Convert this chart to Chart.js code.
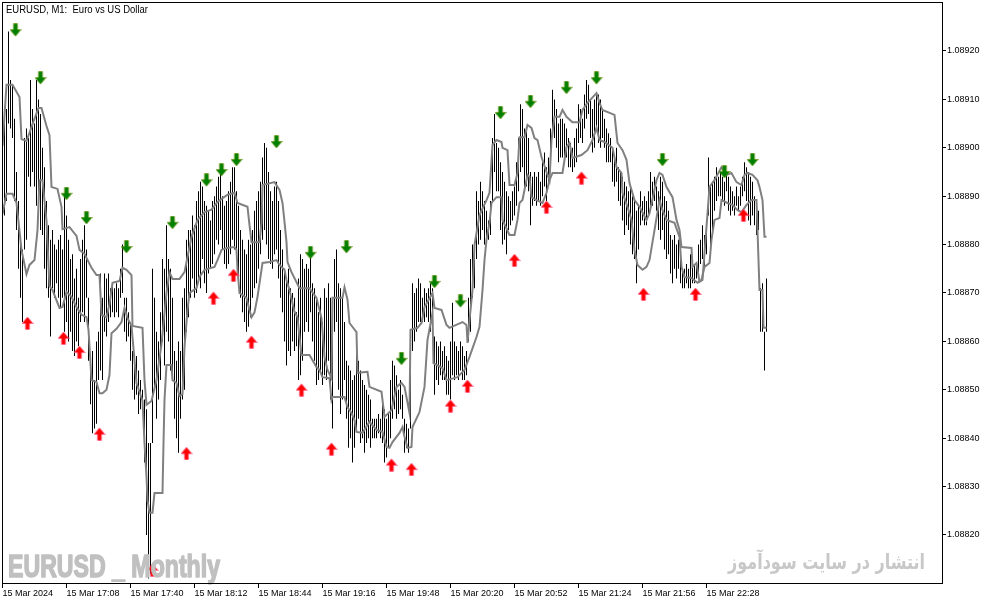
<!DOCTYPE html>
<html>
<head>
<meta charset="utf-8">
<title>EURUSD, M1</title>
<script src="https://cdn.jsdelivr.net/npm/chart.js@4.4.1/dist/chart.umd.min.js"></script>
<style>
  html, body { margin: 0; padding: 0; background: #fff; }
  #wrap { width: 994px; height: 605px; position: relative; }
</style>
</head>
<body>
<div id="wrap"><canvas id="chart"></canvas></div>
<script>
// prices are kept as points above BASE (1 point = 0.00001)
const BASE = 1.08800;
const POINT = 0.00001;
const Y_MIN = 1.0881008;
const Y_MAX = 1.0893012;
const Y_TICKS = [1.08820, 1.08830, 1.08840, 1.08850, 1.08860, 1.08870,
  1.08880, 1.08890, 1.08900, 1.08910, 1.08920];

const LABEL_EVERY = 32; // one time label every 32 one-minute bars
const TIME_LABELS = ["15 Mar 2024", "15 Mar 17:08", "15 Mar 17:40", "15 Mar 18:12",
  "15 Mar 18:44", "15 Mar 19:16", "15 Mar 19:48", "15 Mar 20:20", "15 Mar 20:52",
  "15 Mar 21:24", "15 Mar 21:56", "15 Mar 22:28"];

const TITLE = "EURUSD, M1:  Euro vs US Dollar";
const WATERMARK = "EURUSD _ Monthly";
const SITE_NOTE = "انتشار در سایت سودآموز";

const HIGH_PTS = [
  101,105,108,124,114,113,106,95,89,80,
  79,102,104,102,114,108,105,114,110,107,
  100,96,89,84,81,83,80,79,81,82,
  79,90,86,81,77,78,73,75,69,77,
  81,84,79,69,56,58,52,60,62,74,
  69,74,73,74,71,72,71,72,71,75,
  80,69,69,66,64,58,56,57,54,52,
  50,48,46,39,39,75,69,62,60,66,
  77,75,84,77,75,69,58,56,60,58,
  69,71,81,83,83,86,84,89,91,93,
  92,89,88,87,85,89,90,92,94,95,
  90,88,89,91,93,96,96,91,88,83,
  81,79,78,81,80,83,87,89,91,93,
  98,101,100,95,91,89,92,93,89,83,
  79,75,73,75,71,70,69,66,73,78,
  77,75,76,75,78,72,71,69,66,69,
  64,71,69,72,69,63,77,79,72,71,
  69,64,56,55,54,52,53,58,56,54,
  52,51,50,49,48,44,44,44,45,44,
  47,46,44,45,52,56,55,53,50,52,
  49,44,43,42,62,72,70,71,73,72,
  69,71,70,71,72,71,61,60,59,60,
  58,59,57,56,60,68,60,59,58,60,
  59,57,58,69,77,80,79,91,89,93,
  91,89,87,85,89,102,107,101,100,97,
  95,93,91,90,89,91,92,97,102,109,
  108,104,104,102,95,94,95,94,95,93,
  97,99,96,98,104,112,110,108,105,106,
  106,105,104,102,101,100,102,104,109,108,
  106,111,114,113,110,108,110,111,111,110,
  108,106,104,103,102,100,98,100,96,95,
  94,93,92,91,92,90,89,87,88,91,
  89,90,89,91,95,93,94,92,91,94,
  93,90,89,87,82,81,82,80,81,77,
  75,75,76,75,78,76,76,76,80,81,
  84,82,85,98,92,93,94,96,94,95,
  94,93,95,94,92,91,90,92,90,92,
  94,97,96,95,94,93,90,88,87,71,
  72,62,73
];

const LOW_PTS = [
  79,86,89,105,104,102,89,83,75,69,
  64,79,81,94,92,95,92,88,91,83,
  82,75,71,69,61,71,69,72,69,67,
  69,62,64,60,62,58,57,60,59,64,
  66,64,69,56,47,41,42,43,52,54,
  52,62,61,64,65,66,65,66,65,69,
  70,62,60,61,56,50,48,49,45,46,
  47,35,20,11,12,39,50,44,48,52,
  60,55,62,60,54,52,44,40,37,44,
  48,50,62,65,69,73,69,70,73,71,
  77,72,70,74,75,76,78,81,80,83,
  79,76,75,76,78,81,79,77,73,69,
  66,64,62,63,65,69,71,72,75,78,
  81,83,80,77,76,75,78,79,73,69,
  66,60,55,58,57,60,58,59,52,53,
  56,62,64,62,66,60,56,51,52,54,
  51,53,52,56,48,42,62,64,50,45,
  48,52,44,38,40,35,38,42,44,39,
  40,37,39,40,38,40,40,40,41,40,
  39,35,36,38,40,44,46,44,45,46,
  44,37,38,37,42,58,60,62,64,64,
  64,64,65,64,62,61,49,52,51,53,
  52,52,49,49,48,53,52,53,52,54,
  52,52,53,60,62,69,71,77,80,81,
  83,80,80,81,82,89,95,91,91,83,
  80,81,78,83,84,85,86,88,91,95,
  96,91,92,91,84,88,89,88,89,88,
  90,92,89,92,95,103,102,100,97,98,
  98,97,98,96,96,95,96,97,101,102,
  101,104,106,107,102,99,100,104,101,100,
  102,100,97,97,97,93,92,93,89,88,
  85,82,84,83,80,78,77,72,79,84,
  85,84,84,86,87,88,89,87,83,81,
  83,79,77,78,74,72,75,73,75,72,
  71,71,72,71,71,72,72,73,74,76,
  77,75,78,86,80,83,87,89,90,90,
  89,88,91,87,86,87,86,88,87,88,
  90,91,89,85,84,86,84,82,83,62,
  62,54,62
];

// indicator lines: [bar index, points]
const UPPER_LINE = [
  [0,100.4],[2,113],[5,113],[8.5,110.5],[9.5,101.8],[12,101.4],[13.5,103.1],[15,104.9],
  [18,108.2],[19.5,108.2],[22,104.5],[23.5,102.6],[24.5,91.9],[27.5,91.5],[29.5,87.8],
  [30,83.2],[33.5,83.6],[37,81.8],[38.5,78.9],[41,78.1],[44.5,75.2],[47,73.7],[48.5,73.7],
  [49.5,65.5],[52,65],[53.5,67.7],[55,72.1],[58.5,72.5],[60,75.2],[62,74.8],[64.5,73.7],
  [65,63.2],[70,62.8],[71,52],[72,46.9],[74.5,47.7],[77,52],[79.5,59.5],[82,70],
  [83.5,74.3],[85,72.9],[88.5,72.9],[91,74.3],[94.5,81.6],[97.5,85.1],[101,86.7],
  [104.5,87.2],[107.5,88.8],[112.5,90.3],[116,90.7],[117.5,88.6],[122.5,87.8],[123.5,84],
  [124.5,80.5],[128.5,80.5],[129.5,84.5],[130,92.3],[136,92.9],[138.5,91.3],[140,88.6],
  [141,84.7],[142,80.5],[142.5,76.4],[144.5,74.3],[148.5,71],[153.5,71],[157,69],
  [159.5,64.8],[161,56.8],[162.5,54.1],[164.5,52.4],[165,69],[170,69],[171,71.2],
  [172.5,68.6],[173.5,63.8],[177,61.9],[177.5,53.5],[182.5,53.7],[183.5,50.6],[189.5,49.6],
  [191,44.4],[194.5,45.8],[197,50.6],[199.5,51.4],[201,50.6],[203.5,45.2],[204,62.4],
  [207.5,62.8],[209.5,63.8],[211,67.1],[215,70],[216,66.9],[219.5,66.5],[222,63.4],
  [223.5,62.8],[230,64],[232,63.4],[232.5,59.7],[233.5,64.4],[235,70.6],[236,79.9],
  [238.5,86.1],[242,89.2],[243.5,90.7],[245,100.6],[247,101.6],[249.5,101.2],[250,100],
  [252.5,99.5],[253.5,92.3],[256,92.3],[257.5,94.8],[258.5,102.2],[261,102.2],[262.5,104.7],
  [264.5,104.1],[266,102],[267.5,101.6],[269.5,98.1],[272,95],[273.5,93.3],[274.5,101.6],
  [276,106.4],[278.5,106.4],[280,107.8],[282,106.4],[285,105.3],[288.5,105.3],[290,107.8],
  [292.5,109.3],[297,111.3],[298.5,109.3],[300,107.8],[306,106.8],[307.5,101],[310,99.5],
  [312,97.5],[313.5,92.7],[316,89.2],[318.5,87.8],[322,85.1],[323.5,86.5],[327,93.3],
  [328.5,94.8],[330,94.4],[332,91.9],[335,89.8],[337,85.1],[338.5,83],[339.5,79.5],
  [344.5,79.3],[345,75.4],[347,76.2],[348.5,72.3],[350,72.7],[353.5,91.9],[356,93.3],
  [359.5,96],[362,94.4],[364.5,94.8],[367,92.9],[369.5,92.3],[371,94.4],[372.5,94.8],
  [375,94.4],[377.5,93.3],[378.5,91.9],[380,89.2],[381,81.6],[382,81.6]
];

const LOWER_LINE = [
  [0,86.3],[2,90.5],[5,90.5],[7,88.6],[9.5,78.9],[12,73.9],[13.5,75.8],[16,76.8],
  [17.5,83],[18.5,93.3],[20,93.3],[22,84.9],[23.5,71.4],[25,70.6],[28.5,66.9],[30,67.1],
  [32,70.2],[34.5,69.2],[37,67.1],[39.5,65.5],[42,65],[43,62.4],[44.5,52],[47,51.6],
  [48.5,49.3],[50,49.3],[52,50],[53.5,53.1],[54.5,61.7],[57,62.6],[59.5,64],[61,66.9],
  [62.5,64.8],[64.5,63.2],[67,51.4],[68.5,49.6],[70,47.7],[71,39],[72,32],[72.5,27.2],
  [73.5,24.6],[75,24.6],[76,28.7],[80,28.7],[80.5,39],[81,47.9],[82,55.1],[84.5,55.1],
  [85,52],[87,51.4],[88.5,48.7],[90,49.1],[91,58.8],[92.5,66.5],[93.5,70],[97,71],
  [98.5,73.3],[101,74.8],[106,75.4],[107.5,76.8],[109.5,78.9],[112,79.3],[116,79.5],
  [117,78.9],[117.5,74.8],[118.5,70],[122,69],[123.5,66.5],[124.5,65],[126,66],
  [127.5,69.2],[129.5,74.8],[130,76.2],[133.5,76.4],[137,76.8],[138.5,75.8],[141,74.8],
  [142,72.7],[143.5,70.6],[146,66.1],[147.5,65],[148.5,60.9],[149.5,57.2],[153.5,57.2],
  [157,54.7],[158.5,54.1],[160,52.6],[163.5,52.4],[164.5,47.9],[165,48.5],[171,48.5],
  [172.5,46.4],[174.5,45.2],[176,43.8],[177,41.3],[180,41.1],[183.5,43.4],[187,41.7],
  [190,41.3],[192,38.2],[193.5,38],[195,39.2],[198.5,41.1],[200,42.3],[201,40.3],
  [202.5,38],[204.5,38.2],[205,42.3],[208.5,45.4],[211,50.6],[212.5,60.3],[215,65.9],
  [215.5,55.5],[220,54.5],[222,52],[227.5,52.6],[231,54.1],[233.5,56.8],[237,60.9],
  [238.5,63],[240,70.6],[241,76.8],[242,81],[243.5,84.5],[244.5,88.6],[247,89.8],
  [249.5,89.8],[250,85.1],[253.5,82],[256,82],[257.5,85.1],[258.5,88.6],[260,89.2],
  [262.5,94.4],[263.5,94],[264.5,89.8],[267,89.2],[270,88.6],[272,90.7],[273.5,93.3],
  [275,94.8],[280,94.8],[282,100.2],[283.5,101],[285,97.9],[289.5,98.5],[292.5,99.5],
  [295,101.6],[297,104.1],[298.5,101.6],[301,101.2],[305,100],[307,96],[309.5,94.8],
  [310,90.7],[312.5,87.8],[314.5,85.1],[316,78.9],[317.5,75.8],[320,74.8],[322,75.4],
  [323.5,76.8],[326,83],[328.5,89.2],[330,87.1],[332,85.1],[336,84.5],[338.5,81.6],
  [339.5,75.4],[341,73.3],[344.5,73.1],[347.5,72.1],[349.5,72.7],[351,75.4],[353.5,76.2],
  [354.5,81],[356,85.1],[358.5,85.5],[359.5,89.2],[362.5,88.6],[365,88.2],[367.5,87.1],
  [369.5,86.7],[372,88.2],[374.5,89.2],[377,89.2],[378.5,70.6],[380,70.6],[380.5,62.8],
  [382,62.8]
];

// signal arrows: [bar index, points]
const SELL_ARROWS = [
  [6.5,124.3],[19,114.4],[32,90.5],[42,85.5],[62,79.5],[85,84.5],[102,93.3],[109.5,95.4],
  [117,97.5],[137,101.2],[154,78.3],[172,79.5],[199.5,56.4],[216,72.3],[229,68.3],
  [249,107.2],[264,109.5],[282,112.4],[297,114.4],[330,97.5],[361,95],[375,97.5]
];
const BUY_ARROWS = [
  [12.5,63.8],[30.5,60.7],[38.5,57.8],[48.5,40.9],[75,12.8],[92,36.9],[105.5,69],
  [115.5,73.7],[124.5,59.9],[149.5,50],[164.5,37.8],[194.5,34.5],[204.5,33.6],[224,46.7],
  [232.5,50.8],[256,76.8],[272,87.8],[289.5,93.8],[320.5,69.8],[346.5,69.8],[370.5,86.1]
];

const toPrice = (p) => BASE + p * POINT;
const toPoints = (arr) => arr.map(([i, p]) => ({ x: i, y: toPrice(p) }));

function arrowImage(color, edge, up) {
  const c = document.createElement("canvas");
  c.width = 12;
  c.height = 14;
  const g = c.getContext("2d");
  if (up) {
    g.translate(0, 14);
    g.scale(1, -1);
  }
  g.beginPath();
  g.moveTo(4, 0.5);
  g.lineTo(8, 0.5);
  g.lineTo(8, 6.5);
  g.lineTo(11.5, 6.5);
  g.lineTo(6, 13);
  g.lineTo(0.5, 6.5);
  g.lineTo(4, 6.5);
  g.closePath();
  g.fillStyle = color;
  g.fill();
  g.strokeStyle = edge;
  g.lineWidth = 0.6;
  g.stroke();
  return c;
}

function fitText(ctx, text, x, y, width, font, color, thicken) {
  ctx.save();
  ctx.font = font;
  ctx.fillStyle = color;
  ctx.strokeStyle = color;
  ctx.textAlign = "left";
  ctx.textBaseline = "alphabetic";
  const w = ctx.measureText(text).width;
  ctx.translate(x, y);
  ctx.scale(width / w, 1);
  ctx.fillText(text, 0, 0);
  if (thicken) {
    ctx.lineWidth = thicken;
    ctx.lineJoin = "round";
    ctx.strokeText(text, 0, 0);
  }
  ctx.restore();
}

const overlay = {
  id: "overlay",
  afterDatasetsDraw(chart) {
    const ctx = chart.ctx;
    fitText(ctx, TITLE, 6, 13, 142, '10px "Liberation Sans", Arial, sans-serif', "#000", 0);
    fitText(ctx, WATERMARK, 8, 577, 212,
      'bold 32px "Liberation Sans", Arial, sans-serif', "#c0c0c0", 1.6);
    fitText(ctx, SITE_NOTE, 728, 569, 197, 'bold 21px "DejaVu Sans", sans-serif', "#c8c8c8", 0);
  },
  afterDraw(chart) {
    const { left, top, right, bottom } = chart.chartArea;
    const ctx = chart.ctx;
    ctx.save();
    ctx.strokeStyle = "#000";
    ctx.lineWidth = 1;
    ctx.strokeRect(left + 0.5, top + 0.5, right - left, bottom - top);
    ctx.restore();
  },
};

const axisFont = { family: '"Liberation Sans", Arial, sans-serif', size: 9 };

new Chart(document.getElementById("chart"), {
  type: "bar",
  data: {
    datasets: [
      {
        type: "scatter",
        data: toPoints(SELL_ARROWS),
        pointStyle: arrowImage("#008000", "#6a8f00", false),
        pointRadius: 6,
        order: 0,
      },
      {
        type: "scatter",
        data: toPoints(BUY_ARROWS),
        pointStyle: arrowImage("#ff0000", "#ff5a8c", true),
        pointRadius: 6,
        order: 0,
      },
      {
        type: "line",
        data: toPoints(UPPER_LINE),
        borderColor: "#808080",
        borderWidth: 2,
        pointRadius: 0,
        tension: 0,
        order: 1,
      },
      {
        type: "line",
        data: toPoints(LOWER_LINE),
        borderColor: "#808080",
        borderWidth: 2,
        pointRadius: 0,
        tension: 0,
        order: 1,
      },
      {
        type: "bar",
        data: HIGH_PTS.map((h, i) => ({ x: i, y: [toPrice(LOW_PTS[i]), toPrice(h)] })),
        backgroundColor: "#000",
        borderWidth: 0,
        barThickness: 1,
        inflateAmount: 0,
        grouped: false,
        order: 2,
      },
    ],
  },
  options: {
    responsive: true,
    maintainAspectRatio: false,
    animation: false,
    events: [],
    devicePixelRatio: 1,
    layout: { autoPadding: false, padding: { left: 2, top: 2, right: 0, bottom: 0 } },
    plugins: { legend: { display: false }, tooltip: { enabled: false } },
    scales: {
      x: {
        type: "linear",
        min: -0.25,
        max: 469.75,
        offset: false,
        afterBuildTicks: (s) => {
          s.ticks = TIME_LABELS.map((_, k) => ({ value: k * LABEL_EVERY }));
        },
        afterFit: (s) => { s.height = 22; s.paddingLeft = 0; s.paddingRight = 0; },
        grid: { offset: false, drawOnChartArea: false, tickLength: 5, tickColor: "#000" },
        border: { display: false },
        ticks: {
          align: "start",
          maxRotation: 0,
          autoSkip: false,
          padding: 0,
          color: "#000",
          font: axisFont,
          callback: (v, idx) => TIME_LABELS[idx],
        },
      },
      y: {
        position: "right",
        min: Y_MIN,
        max: Y_MAX,
        afterBuildTicks: (s) => { s.ticks = Y_TICKS.map((v) => ({ value: v })); },
        afterFit: (s) => { s.width = 52; s.paddingTop = 0; s.paddingBottom = 0; },
        grid: { drawOnChartArea: false, tickLength: 4, tickColor: "#000" },
        border: { display: false },
        ticks: {
          padding: 1,
          color: "#000",
          font: axisFont,
          callback: (v) => v.toFixed(5),
        },
      },
    },
  },
  plugins: [overlay],
});
</script>
</body>
</html>
